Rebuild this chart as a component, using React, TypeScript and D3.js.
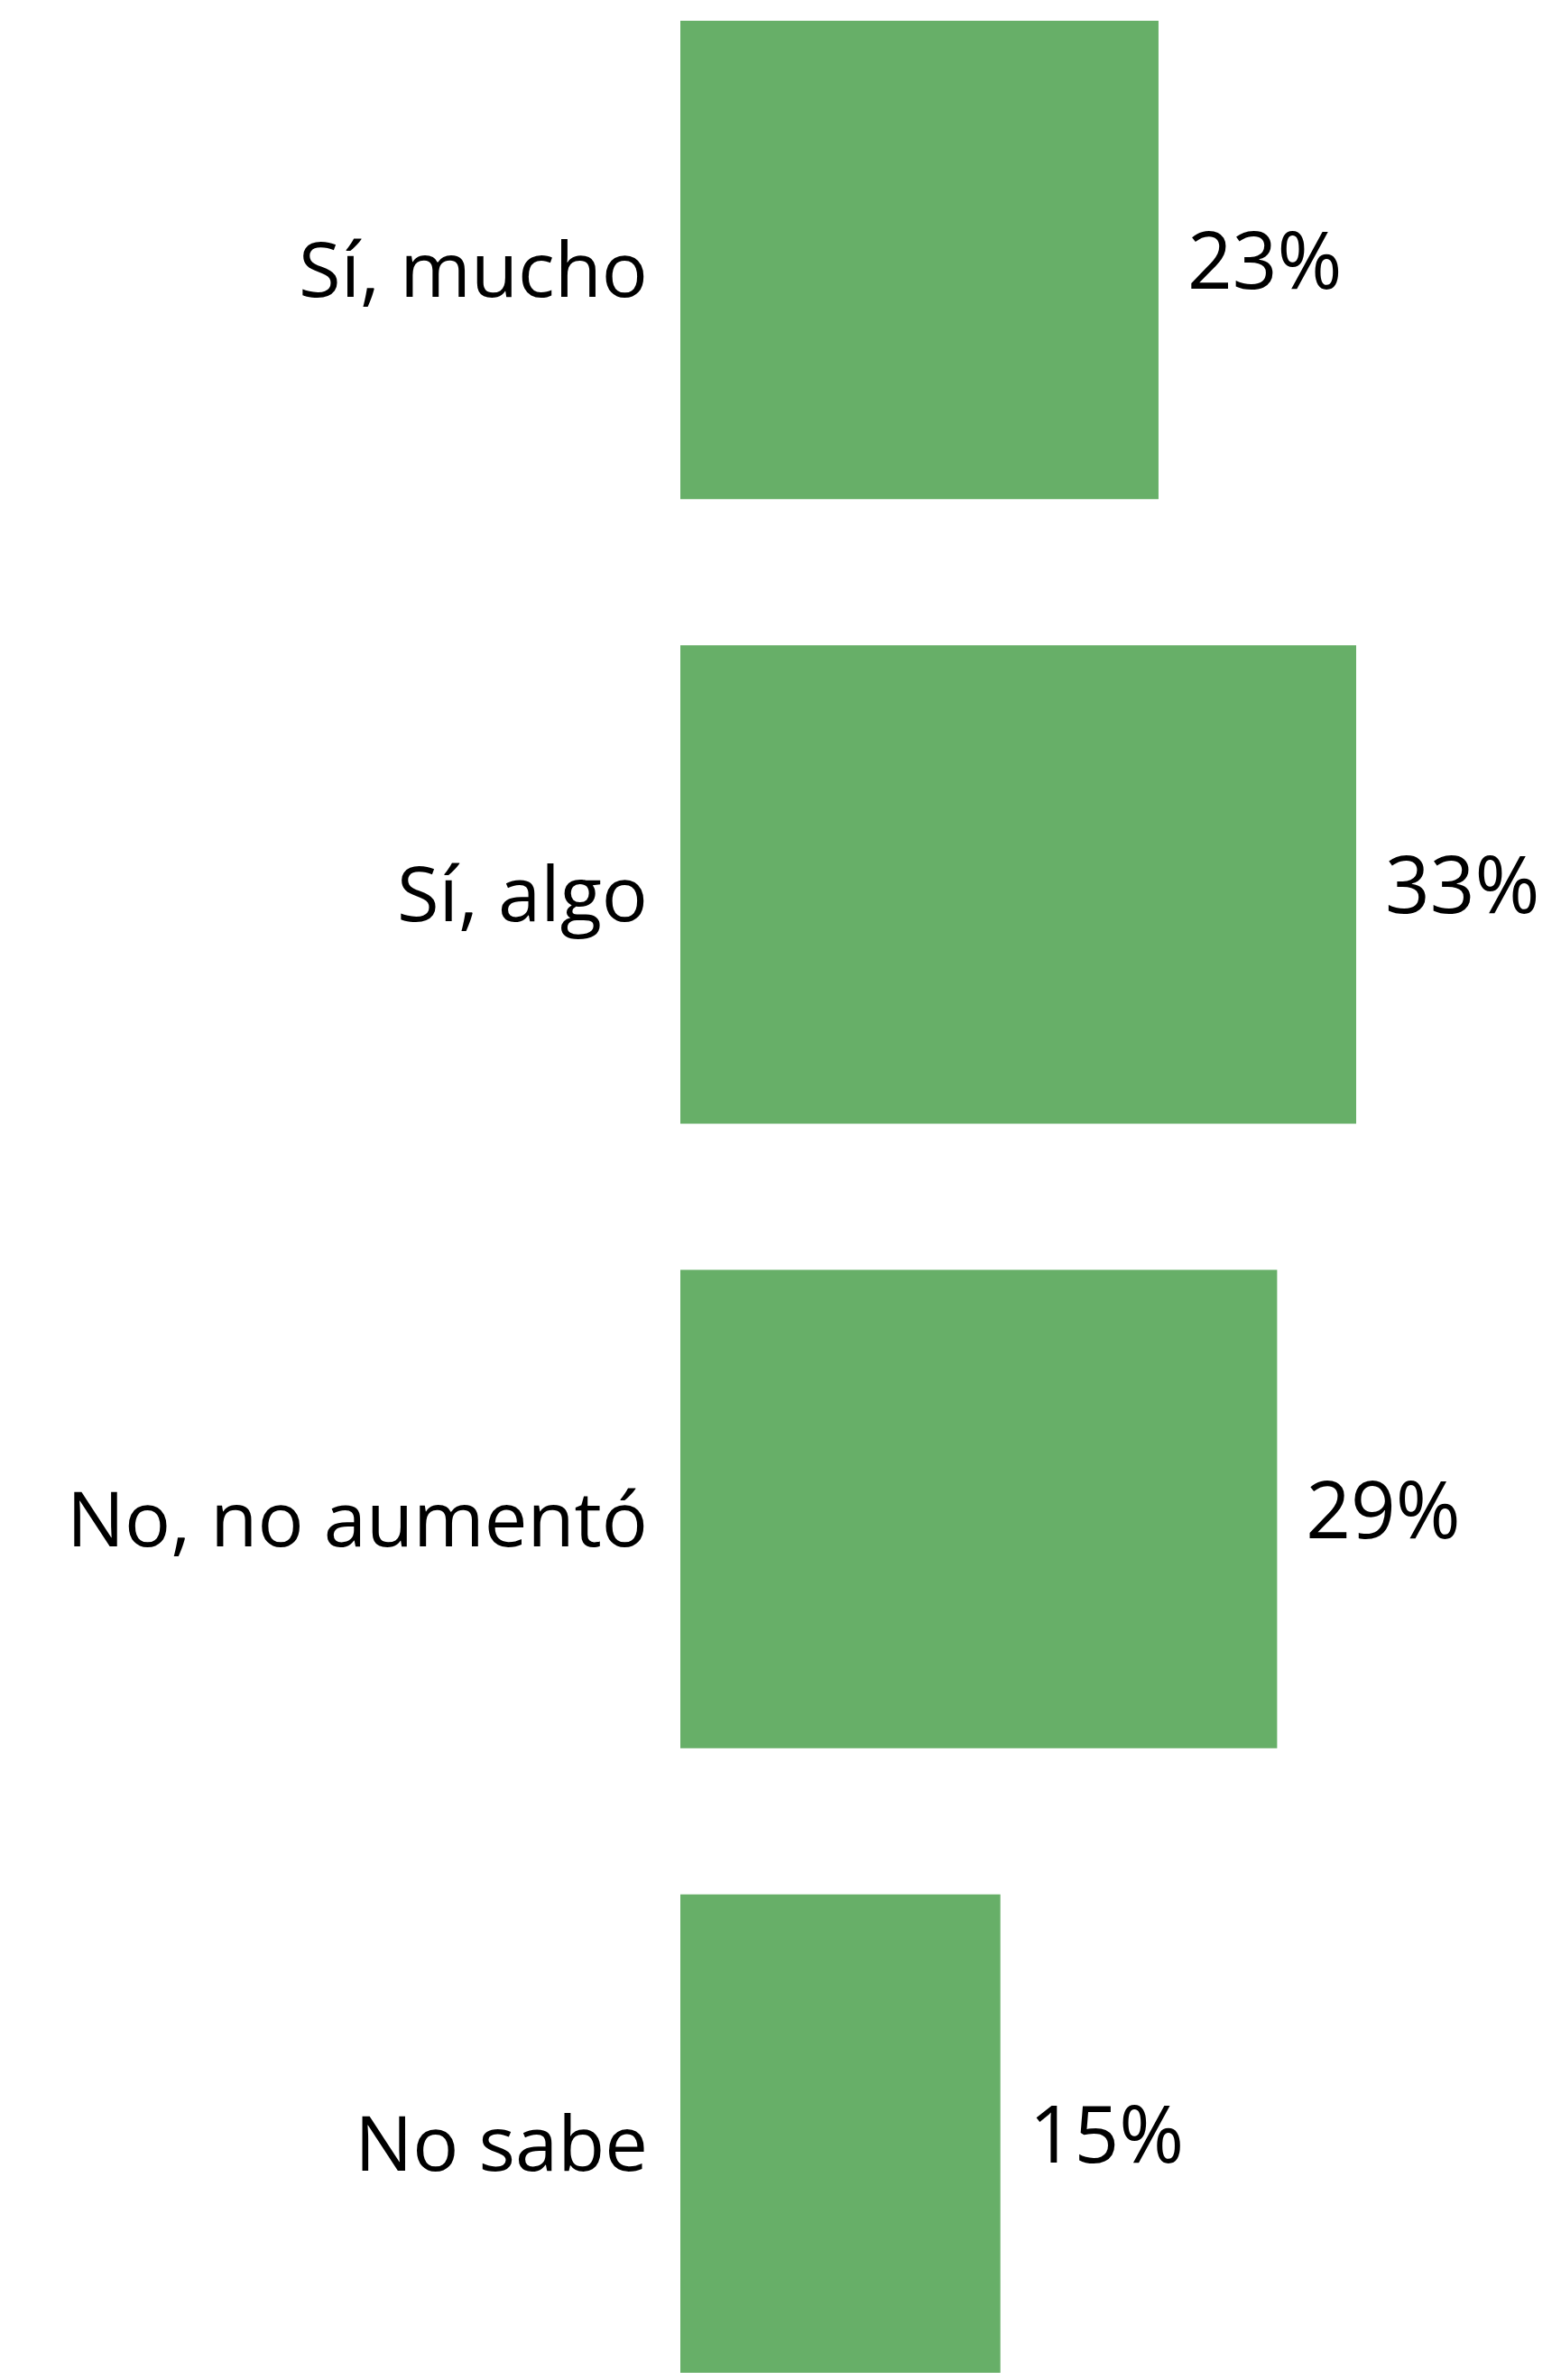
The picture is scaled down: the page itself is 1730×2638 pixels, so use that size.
import React from "react";
import * as d3 from "d3";

const categories = ["Sí, mucho", "Sí, algo", "No, no aumentó", "No sabe"];
const values = [23, 33, 29, 15];
const valueLabels = ["23%", "33%", "29%", "15%"];

const W = 1730;
const H = 2638;
const FONT = "'Open Sans', 'Noto Sans', sans-serif";

export default function App() {
  // axis minimum sits slightly below zero; bars are drawn from the plot's left edge
  const x = d3.scaleLinear().domain([-1.19, 33]).range([754, 1503]);
  const y = d3
    .scaleBand<string>()
    .domain(categories)
    .range([23, 2630])
    .paddingInner(0.234)
    .paddingOuter(0);
  const left = x.range()[0];

  return (
    <svg
      width={W}
      height={H}
      style={{ position: "absolute", left: 0, top: 0, background: "#fff" }}
    >
      {categories.map((c, i) => {
        const y0 = y(c)!;
        const bw = y.bandwidth();
        const cy = y0 + bw / 2;
        return (
          <g key={c}>
            <rect
              x={left}
              y={y0}
              width={x(values[i]) - left}
              height={bw}
              fill="#67AF68"
            />
            <text
              x={left - 36}
              y={cy + 41}
              textAnchor="end"
              fontFamily={FONT}
              fontSize={85}
              fill="#000"
            >
              {c}
            </text>
            <text
              x={x(values[i]) + 32}
              y={cy + 32}
              textAnchor="start"
              fontFamily={FONT}
              fontSize={87}
              fill="#000"
            >
              {valueLabels[i]}
            </text>
          </g>
        );
      })}
    </svg>
  );
}
